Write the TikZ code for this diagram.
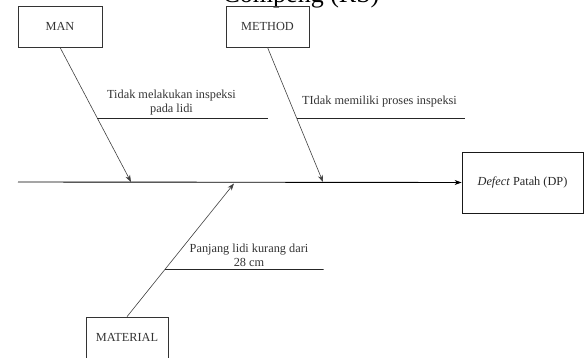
\documentclass[tikz,border=0pt]{standalone}
\usepackage{fontspec}
\setmainfont{Liberation Serif}
\usetikzlibrary{arrows.meta,calc}
\begin{document}
\begin{tikzpicture}[x=1pt,y=-1pt,
  catbox/.style={draw=black!80,line width=0.7pt,minimum width=84pt,minimum height=41pt,
    inner sep=0pt,font=\fontsize{12.3}{14}\selectfont,text=black!80},
  effbox/.style={draw=black!90,line width=0.8pt,minimum width=121pt,minimum height=61pt,
    inner sep=0pt,font=\fontsize{12.3}{14}\selectfont,text=black!85},
  bone/.style={draw=black!75,line width=0.6pt,-{Stealth[length=7pt,width=5pt]}},
  spine/.style={draw=black,line width=0.9pt,-{Stealth[length=7pt,width=5pt]}},
  sub/.style={draw=black!85,line width=0.6pt},
  cause/.style={font=\fontsize{12.3}{14.5}\selectfont,text=black!80,align=center,inner sep=0pt}]
\useasboundingbox (0,0) rectangle (584,358);
\clip (0,0) rectangle (584,358);

% heading, running off the top edge
\node[anchor=base,font=\fontsize{26}{30}\selectfont,inner sep=0pt] (title) at (301,3) {Compeng (RS)};

% category boxes and effect box
\node[catbox] (man) at (60,26.5) {MAN};
\node[catbox,minimum width=83pt] (method) at (267.5,26.5) {METHOD};
\node[catbox,minimum width=82pt] (material) at (127,337.5) {MATERIAL};
\node[effbox] (effect) at (522.5,182.5) {\textit{Defect} Patah (DP)};

% spine
\coordinate (tail) at (18,182);
\draw[spine] (tail) -- (effect.west);

% bones
\coordinate (manhit) at (131,182);
\coordinate (methodhit) at (323,182);
\coordinate (materialhit) at (234,183.5);
\draw[bone] (man.south) -- (manhit);
\draw[bone] (method.south) -- (methodhit);
\draw[bone] (material.north) -- (materialhit);

% cause branches, each starting on its bone
\coordinate (c1a) at ($(man.south)!0.526!(manhit)$);
\coordinate (c2a) at ($(method.south)!0.526!(methodhit)$);
\coordinate (c3a) at ($(material.north)!0.358!(materialhit)$);
\coordinate (c1b) at (267,118);
\coordinate (c2b) at (464,118);
\coordinate (c3b) at (323,269);
\draw[sub] (c1a) -- (c1a -| c1b) -- (c1b);
\draw[sub] (c2a) -- (c2a -| c2b) -- (c2b);
\draw[sub] (c3a) -- (c3a -| c3b) -- (c3b);

\node[cause] (t1) at (171.5,102.5) {Tidak melakukan inspeksi\\pada lidi};
\node[cause] (t2) at (379.5,102) {TIdak memiliki proses inspeksi};
\node[cause] (t3) at (249,255.5) {Panjang lidi kurang dari\\28 cm};
\end{tikzpicture}
\end{document}
